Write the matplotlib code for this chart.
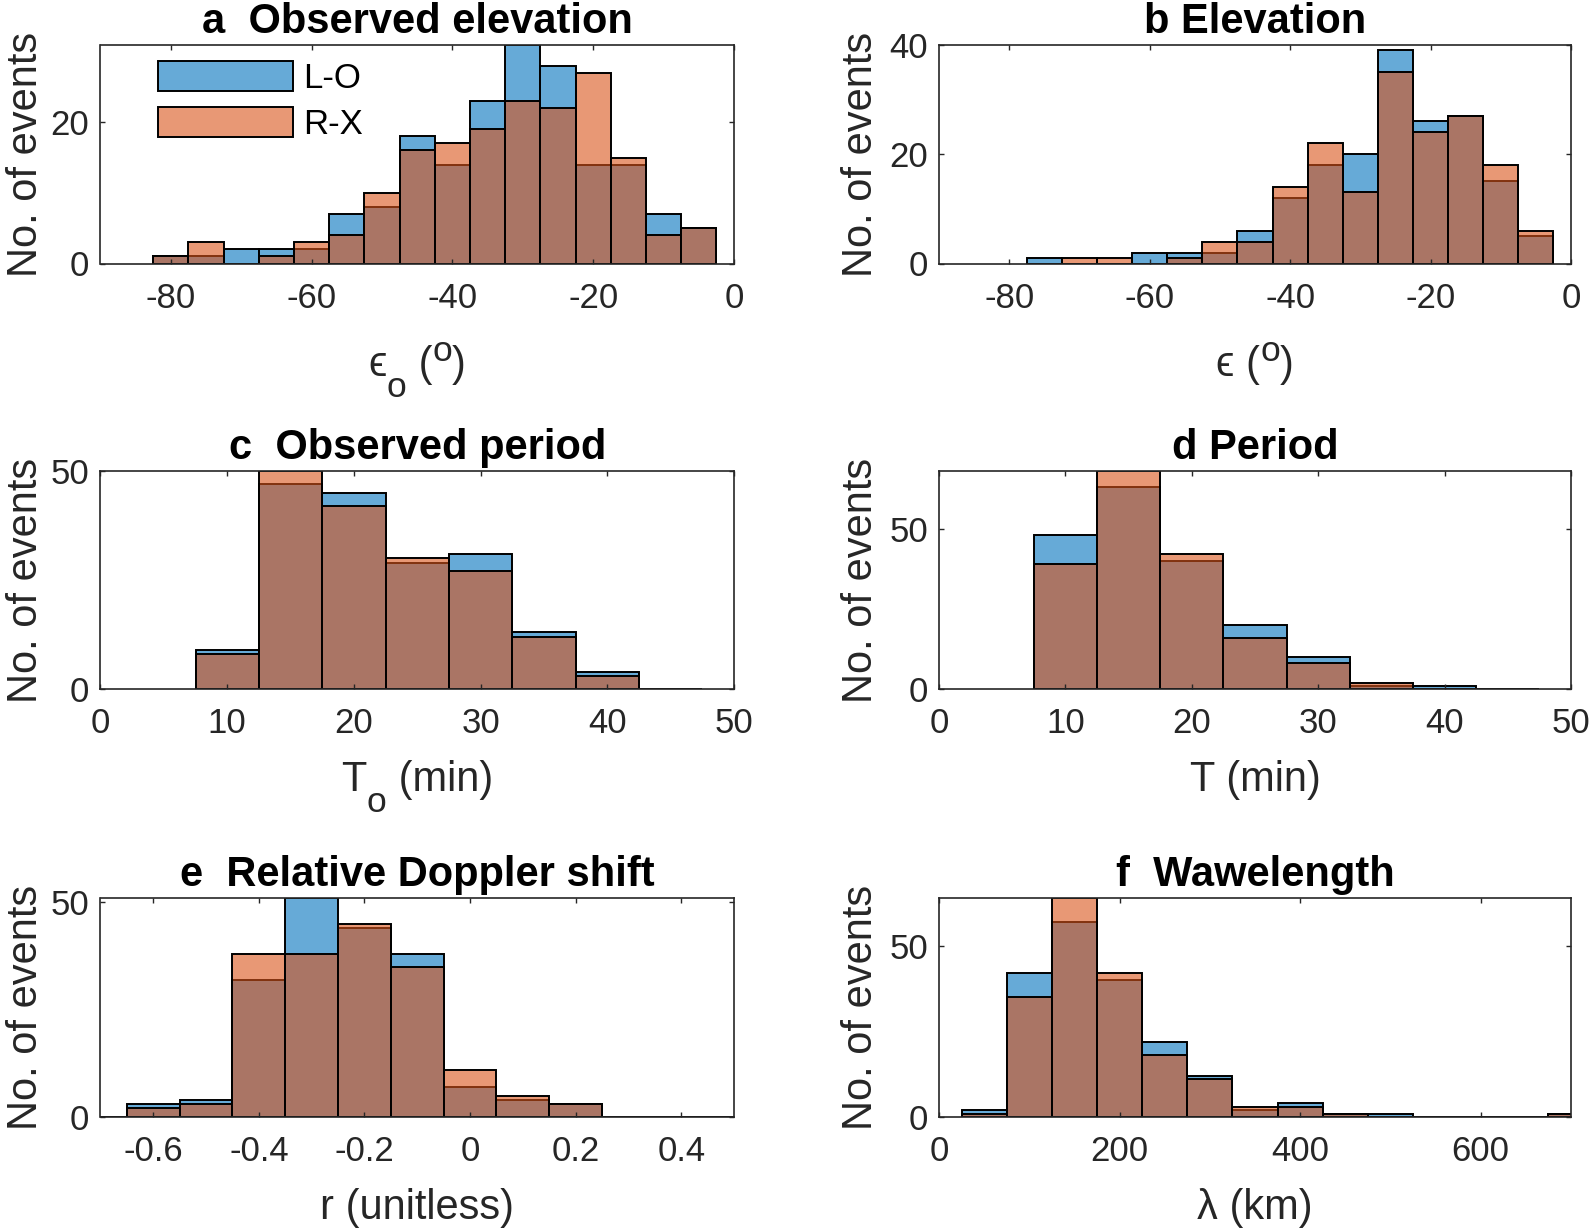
import matplotlib
matplotlib.use("Agg")
import matplotlib.pyplot as plt
from matplotlib.transforms import IdentityTransform

plt.rcParams["font.family"] = ["Liberation Sans", "DejaVu Sans"]
plt.rcParams["axes.unicode_minus"] = False

BLUE = (0.0, 0.447, 0.741, 0.6)
ORANGE = (0.85, 0.325, 0.098, 0.6)
AXIS_GREY = "#262626"

# a  observed elevation (deg), bin centres
obs_elev_bins = [-80, -75, -70, -65, -60, -55, -50, -45, -40, -35, -30, -25, -20, -15, -10, -5]
obs_elev_lo = [1, 1, 2, 2, 2, 7, 8, 18, 14, 23, 31, 28, 14, 14, 7, 5]
obs_elev_rx = [1, 3, 0, 1, 3, 4, 10, 16, 17, 19, 23, 22, 27, 15, 4, 5]

# b  elevation (deg)
elev_bins = [-75, -70, -65, -60, -55, -50, -45, -40, -35, -30, -25, -20, -15, -10, -5]
elev_lo = [1, 0, 0, 2, 2, 2, 6, 12, 18, 20, 39, 26, 27, 15, 5]
elev_rx = [0, 1, 1, 0, 1, 4, 4, 14, 22, 13, 35, 24, 27, 18, 6]

# c  observed period (min)
obs_period_bins = [10, 15, 20, 25, 30, 35, 40, 45]
obs_period_lo = [9, 47, 45, 29, 31, 13, 4, 0]
obs_period_rx = [8, 50, 42, 30, 27, 12, 3, 0]

# d  period (min)
period_bins = [10, 15, 20, 25, 30, 35, 40, 45]
period_lo = [48, 63, 40, 20, 10, 1, 1, 0]
period_rx = [39, 68, 42, 16, 8, 2, 0, 0]

# e  relative doppler shift
doppler_bins = [-0.7, -0.6, -0.5, -0.4, -0.3, -0.2, -0.1, 0.0, 0.1, 0.2, 0.3, 0.4, 0.5]
doppler_lo = [0, 3, 4, 32, 51, 44, 38, 7, 4, 3, 0, 0, 0]
doppler_rx = [0, 2, 3, 38, 38, 45, 35, 11, 5, 3, 0, 0, 0]

# f  wavelength (km)
wave_bins = [50, 100, 150, 200, 250, 300, 350, 400, 450, 500, 550, 600, 650, 700]
wave_lo = [2, 42, 57, 40, 22, 12, 2, 4, 1, 1, 0, 0, 0, 1]
wave_rx = [1, 35, 64, 42, 18, 11, 3, 3, 1, 0, 0, 0, 0, 1]

EPS = "\u03f5"
SUB = -21   # px shift of tex-style subscript
SUP = 15    # px shift of tex-style superscript

# x labels as (text, size factor, baseline shift in px) pieces
panels = [
    ("a  Observed elevation", obs_elev_bins, obs_elev_lo, obs_elev_rx, 5,
     (-90, 0), [-80, -60, -40, -20, 0], ["-80", "-60", "-40", "-20", "0"],
     31, [0, 20], [(EPS, 1, 0), ("o", 0.85, SUB), (" (", 1, 0), ("o", 0.85, SUP), (")", 1, 0)]),
    ("b Elevation", elev_bins, elev_lo, elev_rx, 5,
     (-90, 0), [-80, -60, -40, -20, 0], ["-80", "-60", "-40", "-20", "0"],
     40, [0, 20, 40], [(EPS + " (", 1, 0), ("o", 0.85, SUP), (")", 1, 0)]),
    ("c  Observed period", obs_period_bins, obs_period_lo, obs_period_rx, 5,
     (0, 50), [0, 10, 20, 30, 40, 50], ["0", "10", "20", "30", "40", "50"],
     50, [0, 50], [("T", 1, 0), ("o", 0.85, SUB), (" (min)", 1, 0)]),
    ("d Period", period_bins, period_lo, period_rx, 5,
     (0, 50), [0, 10, 20, 30, 40, 50], ["0", "10", "20", "30", "40", "50"],
     68, [0, 50], [("T (min)", 1, 0)]),
    ("e  Relative Doppler shift", doppler_bins, doppler_lo, doppler_rx, 0.1,
     (-0.7, 0.5), [-0.6, -0.4, -0.2, 0, 0.2, 0.4], ["-0.6", "-0.4", "-0.2", "0", "0.2", "0.4"],
     51, [0, 50], [("r (unitless)", 1, 0)]),
    ("f  Wawelength", wave_bins, wave_lo, wave_rx, 50,
     (0, 700), [0, 200, 400, 600], ["0", "200", "400", "600"],
     64, [0, 50], [("\u03bb (km)", 1, 0)]),
]

W, H = 1594, 1231
fig = plt.figure(figsize=(W / 100, H / 100), dpi=100)
renderer = fig.canvas.get_renderer()

col_left = [100.5, 939]
col_right = [734, 1571]
row_top = [44.5, 471, 898]
row_bottom = [263.5, 689, 1117]


def piecewise_xlabel(ax, pieces, y_frac, size=30):
    texts = []
    for s, scale, dy in pieces:
        t = fig.text(0, 0, s, fontsize=size * scale, color=AXIS_GREY,
                     ha="left", va="baseline", transform=IdentityTransform())
        texts.append((t, dy))
    widths = [t.get_window_extent(renderer).width for t, _ in texts]
    x = ax.bbox.x0 + ax.bbox.width / 2 - sum(widths) / 2
    y = ax.bbox.y0 + y_frac * ax.bbox.height
    for (t, dy), w in zip(texts, widths):
        t.set_position((x, y + dy))
        x += w


for i, (title, bins, lo, rx, width, xlim, xticks, xticklabels, ytop, yticks, xlabel) in enumerate(panels):
    r, c = divmod(i, 2)
    ax = fig.add_axes([
        col_left[c] / W,
        1 - row_bottom[r] / H,
        (col_right[c] - col_left[c]) / W,
        (row_bottom[r] - row_top[r]) / H,
    ])
    ax.bar(bins, lo, width=width, color=BLUE, edgecolor="black", linewidth=1.4, label="L-O")
    ax.bar(bins, rx, width=width, color=ORANGE, edgecolor="black", linewidth=1.4, label="R-X")

    ax.set_xlim(*xlim)
    ax.set_ylim(0, ytop)
    ax.set_xticks(xticks)
    ax.set_xticklabels(xticklabels)
    ax.set_yticks(yticks)

    ax.tick_params(direction="in", top=True, right=True, length=3.6, width=1.0,
                   color=AXIS_GREY, labelcolor=AXIS_GREY, labelsize=25)
    ax.tick_params(axis="x", pad=13)
    ax.tick_params(axis="y", pad=8)
    for spine in ax.spines.values():
        spine.set_color(AXIS_GREY)
        spine.set_linewidth(1.2)

    ax.set_title(title, fontsize=30, fontweight="bold", pad=8.5)
    ax.set_ylabel("No. of events", fontsize=30, color=AXIS_GREY)
    ax.yaxis.set_label_coords(-0.086 if c == 0 else -0.092, 0.5)
    piecewise_xlabel(ax, xlabel, -0.514 if r == 0 else -0.466)

    if i == 0:
        ax.legend(loc="upper left", bbox_to_anchor=(0.09, 0.925), frameon=False,
                  fontsize=25, handlelength=3.9, handleheight=0.95,
                  labelspacing=0.34, handletextpad=0.29,
                  borderpad=0, borderaxespad=0)

fig.savefig("out.png", dpi=100)
